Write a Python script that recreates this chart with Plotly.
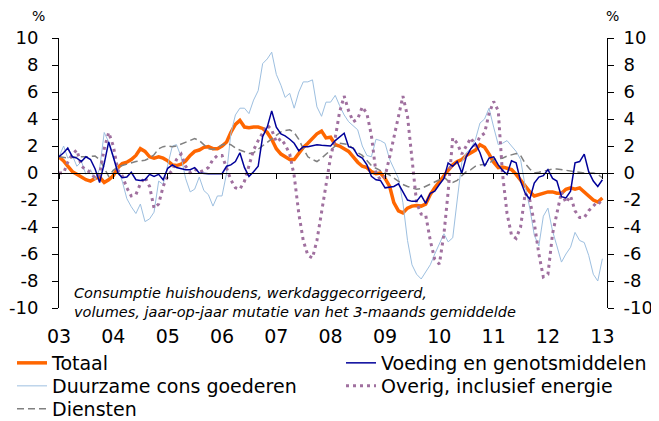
import pandas as pd
import plotly.graph_objects as go

# Monthly observations, Jan 2003 .. Jan 2013
months = pd.date_range("2003-01-01", "2013-01-01", freq="MS")

totaal = [1.2, 0.9, 0.5, 0.1, -0.1, -0.3, -0.5, -0.6, -0.4, -0.3, -0.7, -0.5,
          -0.2, 0.4, 0.7, 0.8, 1.0, 1.3, 1.8, 1.6, 1.2, 1.1, 1.2, 1.1,
          0.9, 0.6, 0.55, 0.65, 0.9, 1.3, 1.6, 1.7, 1.9, 1.95, 1.8, 1.8,
          2.0, 2.3, 3.0, 3.6, 3.9, 3.4, 3.35, 3.4, 3.4, 3.3, 3.0, 2.5,
          1.8, 1.4, 1.2, 1.0, 1.0, 1.5, 1.9, 2.2, 2.6, 2.9, 3.1, 2.6,
          2.65, 2.1, 2.0, 1.8, 1.6, 1.2, 0.8, 0.5, 0.4, 0.1, -0.05, 0.0,
          -0.4, -1.0, -2.2, -2.8, -2.95, -2.6, -2.45, -2.4, -2.45, -2.3, -1.6, -1.1,
          -0.6, -0.2, 0.2, 0.6, 0.85, 1.0, 1.3, 1.5, 1.7, 2.1, 1.9, 1.4,
          0.8, 0.4, 0.45, 0.35, 0.25, -0.1, -0.5, -1.0, -1.4, -1.7, -1.6, -1.5,
          -1.4, -1.4, -1.5, -1.5, -1.2, -1.1, -1.2, -1.1, -1.4, -1.7, -2.0, -2.15,
          -1.85]

voeding = [1.2, 1.5, 1.85, 1.2, 1.1, 0.85, 1.2, 1.0, 0.3, -0.7, 0.7, 2.3,
           1.2, 0.0, -0.35, -0.3, 0.05, -0.5, -0.55, -0.5, -0.1, -0.25, -0.1, -0.5,
           0.35, 0.6, 0.4, 0.3, 0.25, 0.25, 0.4, 0.0, -0.05, -0.05, -0.05, -0.05,
           -0.05, 0.5, 0.6, 0.85, 1.5, 0.4, -0.25, 0.1, 0.5, 2.7, 3.4, 4.6,
           3.4, 2.9, 2.75, 2.5, 2.2, 1.65, 1.95, 1.95, 2.0, 2.1, 2.05, 2.0,
           2.0, 2.4, 2.65, 2.95, 1.95, 1.85, 1.3, 1.1, 0.6, -0.25, -0.5, -0.55,
           -1.1, -1.05, -1.0, -0.8, -1.4, -2.0, -2.1, -2.1, -1.65, -2.25, -1.5, -1.35,
           -0.85, -0.4, 0.75, 0.5, 0.85, 0.0, 1.2, 1.8, 2.2, 1.5, 0.5, 1.1,
           1.2, 0.6, 0.2, -0.1, 0.9, 0.75, -0.6, -1.5, -1.95, -0.75, -0.3, -0.2,
           0.25, -0.4, -0.6, -1.75, -1.85, -1.35, 0.75, 0.85, 1.4, 0.1, -0.6, -1.0,
           -0.5]

duurzame = [1.2, 2.0, 1.1, 1.3, 0.5, 0.85, -0.1, 0.25, -0.5, 0.3, 3.0, 2.3,
            1.1, 0.3, -0.6, -1.9, -2.5, -3.0, -2.3, -3.6, -3.4, -2.9, -0.6, -0.85,
            0.6, 2.0, 2.1, 1.2, -0.4, -1.4, -1.2, -0.3, -1.3, -1.6, -2.45, -1.7,
            -1.7, 0.0, 2.9, 4.3, 4.8, 4.8, 4.4, 5.4, 6.1, 8.1, 8.45, 8.95,
            7.3, 6.5, 5.6, 5.9, 4.8, 6.0, 6.75, 6.75, 6.9, 4.9, 4.2, 5.25,
            5.25, 5.75, 5.0, 4.3, 3.8, 3.5, 3.2, 2.0, 1.3, 1.2, 2.5, 2.4,
            2.2, 1.0, 0.3, -0.4, -2.2, -5.0, -6.8, -7.5, -7.85, -7.3, -6.8, -6.0,
            -5.3, -4.5, -5.1, -4.8, -2.0, 0.8, 1.5, 1.8, 2.5, 3.7, 4.0, 4.8,
            3.4, 2.1, 2.2, 2.4, 2.0, 1.6, 1.0, -1.0, -2.6, -4.6, -5.4, -3.2,
            -2.6, -4.3, -5.4, -6.6, -6.0, -5.5, -4.4, -5.0, -5.15, -6.1, -7.5, -8.0,
            -6.35]

overig = [0.0, 0.0, 0.8, 1.4, 1.7, 0.5, 0.25, 0.05, -0.4, -0.1, 1.8, 3.0,
          2.0, 0.2, -0.2, -1.1, -1.7, -1.6, -0.8, -0.3, -1.0, -2.6, -2.3, -1.0,
          -0.2, 0.2, 1.0, 1.4, 0.5, 0.05, 0.3, 0.05, 0.2, 0.4, 1.0, 1.3,
          1.3, 0.3, -0.5, -1.1, -1.2, -0.6, 0.6, 1.7, 2.4, 3.0, 3.55, 3.2,
          2.3, 2.55, 2.1, 1.4, -0.2, -3.0, -5.0, -6.1, -6.3, -5.0, -2.9, -0.7,
          1.2, 2.6, 4.5, 5.7, 4.6, 3.8, 4.0, 4.9, 4.4, 2.8, 0.0, -0.5,
          -0.25, 1.2, 2.7, 4.1, 5.7, 4.2, 1.0, -2.2, -3.05, -3.1, -5.0, -6.4,
          -6.75, -4.5, -1.4, 2.6, 2.2, 1.4, 2.0, 2.6, 2.0, 2.7, 2.95, 4.4,
          5.3, 4.6, 0.0, -3.0, -4.6, -4.85, -4.0, -1.5, -2.0, -3.7, -6.0, -7.7,
          -7.5, -4.5, -3.0, -1.4, -2.2, -1.7, -2.8, -3.3, -3.3, -2.8, -2.45, -2.1,
          -2.35]

diensten = [1.2, 1.15, 1.1, 1.15, 1.2, 1.2, 1.2, 1.2, 1.25, 1.0, 0.4, -0.25,
            0.2, 0.45, 0.55, 0.65, 0.8, 0.85, 0.9, 0.95, 1.1, 1.35, 1.8, 1.95,
            2.0, 1.95, 2.0, 2.15, 2.3, 2.4, 2.55, 2.4, 2.1, 1.8, 1.75, 1.85,
            2.1, 2.15, 2.1, 1.85, 1.7, 1.55, 1.45, 1.5, 1.75, 2.05, 2.3, 2.55,
            2.8, 3.05, 3.15, 3.2, 3.0, 2.5, 1.8, 1.2, 1.0, 0.85, 1.1, 1.4,
            1.75, 2.0, 2.2, 2.15, 2.1, 1.8, 1.5, 1.3, 0.9, 0.55, 0.35, 0.15,
            0.0, -0.15, -0.35, -0.6, -0.85, -1.0, -1.1, -1.2, -1.15, -1.0, -0.85, -0.65,
            -0.5, -0.3, -0.6, -0.7, -0.55, -0.2, 0.1, 0.25, 0.5, 0.6, 0.65, 0.7,
            1.0, 1.05, 1.1, 1.25, 1.35, 1.45, 1.3, 0.7, 0.3, 0.0, 0.05, 0.15,
            0.25, 0.3, 0.3, 0.25, 0.2, 0.1, 0.05, 0.0, 0.0, 0.0, 0.0, -0.1,
            -0.35]

year_ticks = pd.date_range("2003-01-01", "2013-01-01", freq="YS")
year_labels = ["03", "04", "05", "06", "07", "08", "09", "10", "11", "12", "13"]
y_ticks = [-10, -8, -6, -4, -2, 0, 2, 4, 6, 8, 10]
y_labels = ["-10", "-8", "-6", "-4", "-2", "0", "2", "4", "6", "8", "10"]

FONT = "DejaVu Sans"
x_range = ["2003-01-01", "2013-02-01"]

# page body has an 8px margin, so the figure is 8px smaller than the window
W, H = 651, 413

fig = go.Figure()

fig.add_trace(go.Scatter(x=months, y=totaal, name="Totaal", mode="lines",
                         line=dict(color="#FF6600", width=3.5), legend="legend"))
fig.add_trace(go.Scatter(x=months, y=duurzame, name="Duurzame cons goederen", mode="lines",
                         line=dict(color="#9DBFE0", width=1), legend="legend3"))
fig.add_trace(go.Scatter(x=months, y=diensten, name="Diensten", mode="lines",
                         line=dict(color="#808080", width=1.5, dash="7px,4px"), legend="legend5"))
fig.add_trace(go.Scatter(x=months, y=overig, name="Overig, inclusief energie", mode="lines",
                         line=dict(color="#A0709F", width=3, dash="3px,4px"), legend="legend4"))
fig.add_trace(go.Scatter(x=months, y=voeding, name="Voeding en genotsmiddelen", mode="lines",
                         line=dict(color="#000099", width=1.5), legend="legend2"))
# invisible trace anchoring the secondary axes (zero line with year ticks, right y axis)
fig.add_trace(go.Scatter(x=[months[0]], y=[0], xaxis="x2", yaxis="y2", mode="lines",
                         showlegend=False, hoverinfo="skip", line=dict(width=0)))


def legend_box(left_px, top_px):
    return dict(xref="container", yref="container", x=left_px / W, y=1 - top_px / H,
                xanchor="left", yanchor="top", orientation="v",
                font=dict(size=19), bgcolor="rgba(0,0,0,0)", borderwidth=0)


fig.update_layout(
    width=W, height=H,
    margin=dict(l=51, r=52, t=30, b=113, autoexpand=False),
    paper_bgcolor="white", plot_bgcolor="white",
    font=dict(family=FONT, size=18, color="black"),
    xaxis=dict(type="date", range=x_range, tickvals=list(year_ticks), ticktext=year_labels,
               showline=False, showgrid=False, zeroline=False, ticks="",
               tickfont=dict(size=19), ticklabelstandoff=15, automargin=False),
    xaxis2=dict(type="date", range=x_range, overlaying="x", anchor="free", position=0.5,
                tickvals=list(year_ticks), showticklabels=False, showline=True,
                linecolor="black", linewidth=1, ticks="outside", ticklen=5,
                tickcolor="black", showgrid=False, zeroline=False, automargin=False),
    yaxis=dict(range=[-10, 10], tickvals=y_ticks, ticktext=y_labels, showline=True,
               linecolor="black", linewidth=1, ticks="outside", ticklen=6,
               tickcolor="black", showgrid=False, zeroline=False, ticklabelstandoff=10,
               tickfont=dict(size=18), automargin=False),
    yaxis2=dict(range=[-10, 10], tickvals=y_ticks, ticktext=y_labels, overlaying="y",
                side="right", anchor="x", showline=True, linecolor="black", linewidth=1,
                ticks="outside", ticklen=6, tickcolor="black", showgrid=False,
                zeroline=False, ticklabelstandoff=6, tickfont=dict(size=18),
                automargin=False),
    legend=legend_box(4, 336),
    legend2=legend_box(333, 336),
    legend3=legend_box(4, 359),
    legend4=legend_box(333, 359),
    legend5=legend_box(4, 382),
    annotations=[
        dict(text="Consumptie huishoudens, werkdaggecorrigeerd,<br>volumes, jaar-op-jaar mutatie van het 3-maands gemiddelde",
             xref="paper", yref="paper", x=0.023, y=0.019, xanchor="left", yanchor="middle",
             showarrow=False, align="left",
             font=dict(family=FONT, size=14.5, style="italic")),
        dict(text="%", xref="paper", yref="paper", x=-0.0365, y=1.081, xanchor="center",
             yanchor="middle", showarrow=False, font=dict(size=14)),
        dict(text="%", xref="paper", yref="paper", x=1.0095, y=1.081, xanchor="center",
             yanchor="middle", showarrow=False, font=dict(size=14)),
    ],
    showlegend=True,
)

fig.write_html("out.html")
